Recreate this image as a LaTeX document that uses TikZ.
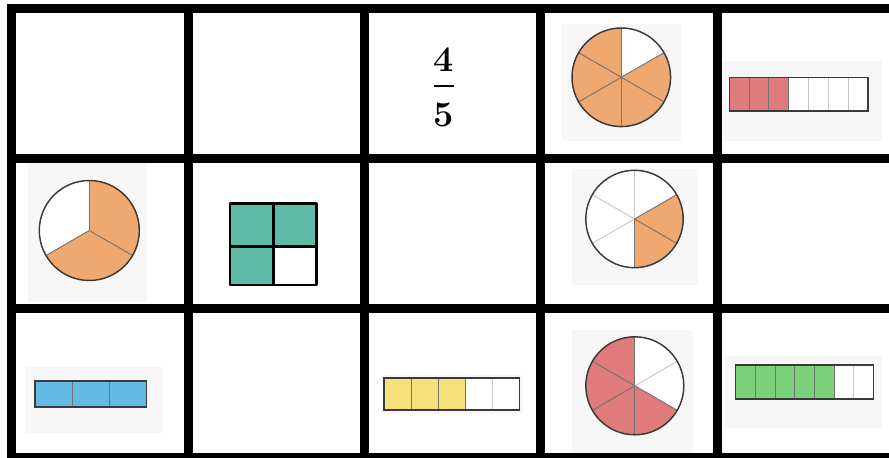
\documentclass[tikz,border=0pt]{standalone}
\definecolor{pieorange}{HTML}{EFA86F}
\definecolor{piered}{HTML}{E07B7B}
\definecolor{sqteal}{HTML}{5DBBA8}
\definecolor{barblue}{HTML}{62BAE5}
\definecolor{baryellow}{HTML}{F6E07C}
\definecolor{bargreen}{HTML}{7AD17A}
\definecolor{panelgrey}{HTML}{F7F7F7}
\definecolor{rimgrey}{HTML}{3A3A3A}
\begin{document}
\begin{tikzpicture}[x=0.75pt,y=0.75pt,
  gridline/.style={line width=6.75pt},
  panel/.style={fill=panelgrey},
  rim/.style={draw=rimgrey, line width=1.1pt},
  spoke/.style={draw=black!55, line width=0.7pt},
  faint/.style={draw=black!22, line width=0.7pt}]
  \useasboundingbox (0,0) rectangle (889,457);
  \clip (0,0) rectangle (889,457);
  % row 1
  \node[font=\fontsize{27}{30}\selectfont\bfseries, inner sep=0pt] (num) at (444,397) {4};
  \node[font=\fontsize{27}{30}\selectfont\bfseries, inner sep=0pt] (den) at (444,342) {5};
  \draw[line width=1.6pt] (434,371) -- (454,371);
  \fill[panel] (562,316) rectangle (681,433);
  \fill[white] (621.3,379.7) circle (49.3);
  \fill[pieorange] (621.3,379.7) -- ++(30:49.3) arc[start angle=30, end angle=-270, radius=49.3] -- cycle;
  \draw[spoke] (621.3,379.7) -- ++(90:49.3);
  \draw[spoke] (621.3,379.7) -- ++(30:49.3);
  \draw[spoke] (621.3,379.7) -- ++(-30:49.3);
  \draw[spoke] (621.3,379.7) -- ++(-90:49.3);
  \draw[spoke] (621.3,379.7) -- ++(-150:49.3);
  \draw[spoke] (621.3,379.7) -- ++(150:49.3);
  \draw[rim] (621.3,379.7) circle (49.3);
  \fill[panel] (723,316) rectangle (882,396);
  \fill[white] (729.3,346) rectangle (868,379.3);
  \fill[piered] (729.3,346) rectangle (788.7,379.3);
  \draw[spoke] (749.1,346) -- (749.1,379.3);
  \draw[spoke] (768.9,346) -- (768.9,379.3);
  \draw[spoke] (788.7,346) -- (788.7,379.3);
  \draw[faint] (808.6,346) -- (808.6,379.3);
  \draw[faint] (828.4,346) -- (828.4,379.3);
  \draw[faint] (848.2,346) -- (848.2,379.3);
  \draw[rim] (729.3,346) rectangle (868,379.3);
  % row 2
  \fill[panel] (28,155) rectangle (147,294);
  \fill[white] (89.3,226.5) circle (50);
  \fill[pieorange] (89.3,226.5) -- ++(90:50) arc[start angle=90, end angle=-150, radius=50] -- cycle;
  \draw[spoke] (89.3,226.5) -- ++(90:50);
  \draw[spoke] (89.3,226.5) -- ++(-30:50);
  \draw[spoke] (89.3,226.5) -- ++(-150:50);
  \draw[rim] (89.3,226.5) circle (50);
  \fill[sqteal] (230,172) rectangle (316.7,253.7);
  \fill[white] (273.3,172) rectangle (316.7,210.3);
  \draw[line width=2.2pt, line join=round] (230,172) rectangle (316.7,253.7);
  \draw[line width=2.2pt] (273.3,172) -- (273.3,253.7);
  \draw[line width=2.2pt] (230,210.3) -- (316.7,210.3);
  \fill[panel] (572,172) rectangle (698,288);
  \fill[white] (634.5,238) circle (48.7);
  \fill[pieorange] (634.5,238) -- ++(30:48.7) arc[start angle=30, end angle=-90, radius=48.7] -- cycle;
  \draw[faint] (634.5,238) -- ++(90:48.7);
  \draw[faint] (634.5,238) -- ++(150:48.7);
  \draw[faint] (634.5,238) -- ++(-150:48.7);
  \draw[spoke] (634.5,238) -- ++(30:48.7);
  \draw[spoke] (634.5,238) -- ++(-30:48.7);
  \draw[spoke] (634.5,238) -- ++(-90:48.7);
  \draw[rim] (634.5,238) circle (48.7);
  % row 3
  \fill[panel] (25,24) rectangle (163,90);
  \fill[barblue] (35,50) rectangle (146.3,76);
  \draw[spoke] (72.1,50) -- (72.1,76);
  \draw[spoke] (109.2,50) -- (109.2,76);
  \draw[rim] (35,50) rectangle (146.3,76);
  \fill[panel] (382,43) rectangle (522.7,82);
  \fill[white] (384,47) rectangle (519.3,79);
  \fill[baryellow] (384,47) rectangle (465.2,79);
  \draw[spoke] (411.1,47) -- (411.1,79);
  \draw[spoke] (438.1,47) -- (438.1,79);
  \draw[spoke] (465.2,47) -- (465.2,79);
  \draw[faint] (492.2,47) -- (492.2,79);
  \draw[rim] (384,47) rectangle (519.3,79);
  \fill[panel] (572,0) rectangle (693,127);
  \fill[white] (634.8,71.2) circle (49);
  \fill[piered] (634.8,71.2) -- ++(-30:49) arc[start angle=-30, end angle=-270, radius=49] -- cycle;
  \draw[faint] (634.8,71.2) -- ++(30:49);
  \draw[spoke] (634.8,71.2) -- ++(90:49);
  \draw[spoke] (634.8,71.2) -- ++(150:49);
  \draw[spoke] (634.8,71.2) -- ++(-150:49);
  \draw[spoke] (634.8,71.2) -- ++(-90:49);
  \draw[spoke] (634.8,71.2) -- ++(-30:49);
  \draw[rim] (634.8,71.2) circle (49);
  \fill[panel] (725,29.3) rectangle (881.7,101);
  \fill[white] (735.7,58) rectangle (873.3,92);
  \fill[bargreen] (735.7,58) rectangle (834,92);
  \draw[spoke] (755.4,58) -- (755.4,92);
  \draw[spoke] (775,58) -- (775,92);
  \draw[spoke] (794.7,58) -- (794.7,92);
  \draw[spoke] (814.3,58) -- (814.3,92);
  \draw[spoke] (834,58) -- (834,92);
  \draw[faint] (853.7,58) -- (853.7,92);
  \draw[rim] (735.7,58) rectangle (873.3,92);
  % grid
  \draw[gridline] (11.5,-5) -- (11.5,452.5);
  \draw[gridline] (188.5,-5) -- (188.5,452.5);
  \draw[gridline] (364.5,-5) -- (364.5,452.5);
  \draw[gridline] (540.5,-5) -- (540.5,452.5);
  \draw[gridline] (717,-5) -- (717,452.5);
  \draw[gridline] (7,448) -- (895,448);
  \draw[gridline] (7,298.5) -- (895,298.5);
  \draw[gridline] (7,148.5) -- (895,148.5);
  \draw[gridline] (7,-0.5) -- (895,-0.5);
\end{tikzpicture}
\end{document}
